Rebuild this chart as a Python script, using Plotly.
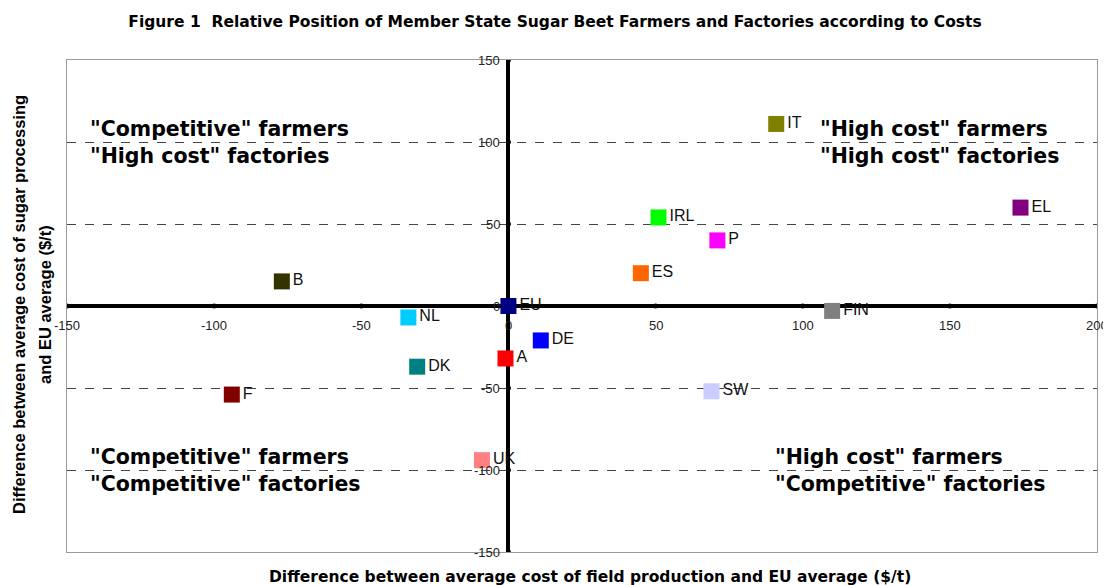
import plotly.graph_objects as go

# Data
countries = ["B", "NL", "EU", "DK", "F", "UK", "A", "DE", "SW", "FIN", "ES", "P", "IRL", "IT", "EL"]
field_cost_diff = [-77, -34, 0, -31, -94, -9, -1, 11, 69, 110, 45, 71, 51, 91, 174]
processing_cost_diff = [15, -7, 0, -37, -54, -94, -32, -21, -52, -3, 20, 40, 54, 111, 60]
colors = ["#333300", "#00ccff", "#000080", "#008080", "#800000", "#ff8080", "#ff0000", "#0000ff",
          "#ccccff", "#808080", "#ff6600", "#ff00ff", "#00ff00", "#808000", "#800080"]

x_ticks = [-150, -100, -50, 0, 50, 100, 150, 200]
y_ticks = [-150, -100, -50, 0, 50, 100, 150]
grid_y = [-100, -50, 50, 100]

quadrant_texts = [
    (['"Competitive" farmers', '"High cost" factories'], -142.7, 100),
    (['"High cost" farmers', '"High cost" factories'], 105.3, 100),
    (['"Competitive" farmers', '"Competitive" factories'], -142.7, -100),
    (['"High cost" farmers', '"Competitive" factories'], 90, -100),
]

ARIAL = "Liberation Sans, Arial, sans-serif"
WIDE = "DejaVu Sans, Verdana, sans-serif"

# page body has an 8px margin, so the figure is sized to fill the rest of the window
W, H = 1103, 577

fig = go.Figure()

# tick dots on the crossing axes
fig.add_trace(go.Scatter(x=x_ticks, y=[0] * len(x_ticks), mode="markers",
                         marker=dict(color="black", size=5), hoverinfo="skip", showlegend=False))
fig.add_trace(go.Scatter(x=[0] * len(y_ticks), y=y_ticks, mode="markers",
                         marker=dict(color="black", size=5), hoverinfo="skip", showlegend=False))

fig.add_trace(go.Scatter(
    x=field_cost_diff, y=processing_cost_diff, mode="markers+text",
    text=countries, textposition="middle right",
    textfont=dict(family=ARIAL, size=16, color="#111"),
    marker=dict(symbol="square", size=16, color=colors, line=dict(width=0)),
    showlegend=False, hoverinfo="skip",
))

annotations = []
for v in x_ticks:
    annotations.append(dict(x=v, y=0, xref="x", yref="y", text=str(v), showarrow=False,
                            yshift=-19, font=dict(family=ARIAL, size=13, color="#222")))
for v in y_ticks:
    annotations.append(dict(x=0, y=v, xref="x", yref="y", text=str(v), showarrow=False,
                            xanchor="right", xshift=-6, font=dict(family=ARIAL, size=13, color="#222")))
for lines, qx, qy in quadrant_texts:
    annotations.append(dict(x=qx, y=qy, xref="x", yref="y",
                            text="<br>".join("<b>%s</b>" % l for l in lines), showarrow=False,
                            xanchor="left", yanchor="middle", align="left",
                            font=dict(family=WIDE, size=20.5, color="black")))

plot_l, plot_r, plot_t, plot_b = 59, 1089, 52, 544
pw, ph = plot_r - plot_l, plot_b - plot_t

annotations.append(dict(text="<b>Difference between average cost of field production and EU average ($/t)</b>",
                        x=(582 - plot_l) / pw, y=(plot_b - 569) / ph, xref="paper", yref="paper",
                        showarrow=False, xanchor="center", yanchor="middle",
                        font=dict(family=WIDE, size=15.5, color="black")))
for txt, px in [("<b>Difference between average cost of sugar processing</b>", 11),
                ("<b>and EU average ($/t)</b>", 37)]:
    annotations.append(dict(text=txt, x=(px - plot_l) / pw, y=(plot_b - 297) / ph,
                            xref="paper", yref="paper", showarrow=False, textangle=-90,
                            xanchor="center", yanchor="middle",
                            font=dict(family=ARIAL, size=16.5, color="black")))

fig.update_layout(
    width=W, height=H,
    margin=dict(l=plot_l, r=W - plot_r, t=plot_t, b=H - plot_b, autoexpand=False),
    paper_bgcolor="white", plot_bgcolor="white",
    title=dict(text="<b>Figure 1  Relative Position of Member State Sugar Beet Farmers and Factories according to Costs</b>",
               x=547 / W, xref="container", xanchor="center", y=1 - 14 / H, yanchor="middle",
               font=dict(family=WIDE, size=15.5, color="black")),
    annotations=annotations,
    xaxis=dict(range=[-150, 200], showgrid=False, zeroline=True, zerolinecolor="black", zerolinewidth=4,
               showticklabels=False, ticks="", showline=True, linecolor="#999", linewidth=1, mirror=True),
    yaxis=dict(range=[-150, 150], tickvals=grid_y, showgrid=True, gridcolor="#444", griddash="dash",
               gridwidth=1, zeroline=True, zerolinecolor="black", zerolinewidth=4,
               showticklabels=False, ticks="", showline=True, linecolor="#999", linewidth=1, mirror=True),
)

fig.write_html("out.html")
